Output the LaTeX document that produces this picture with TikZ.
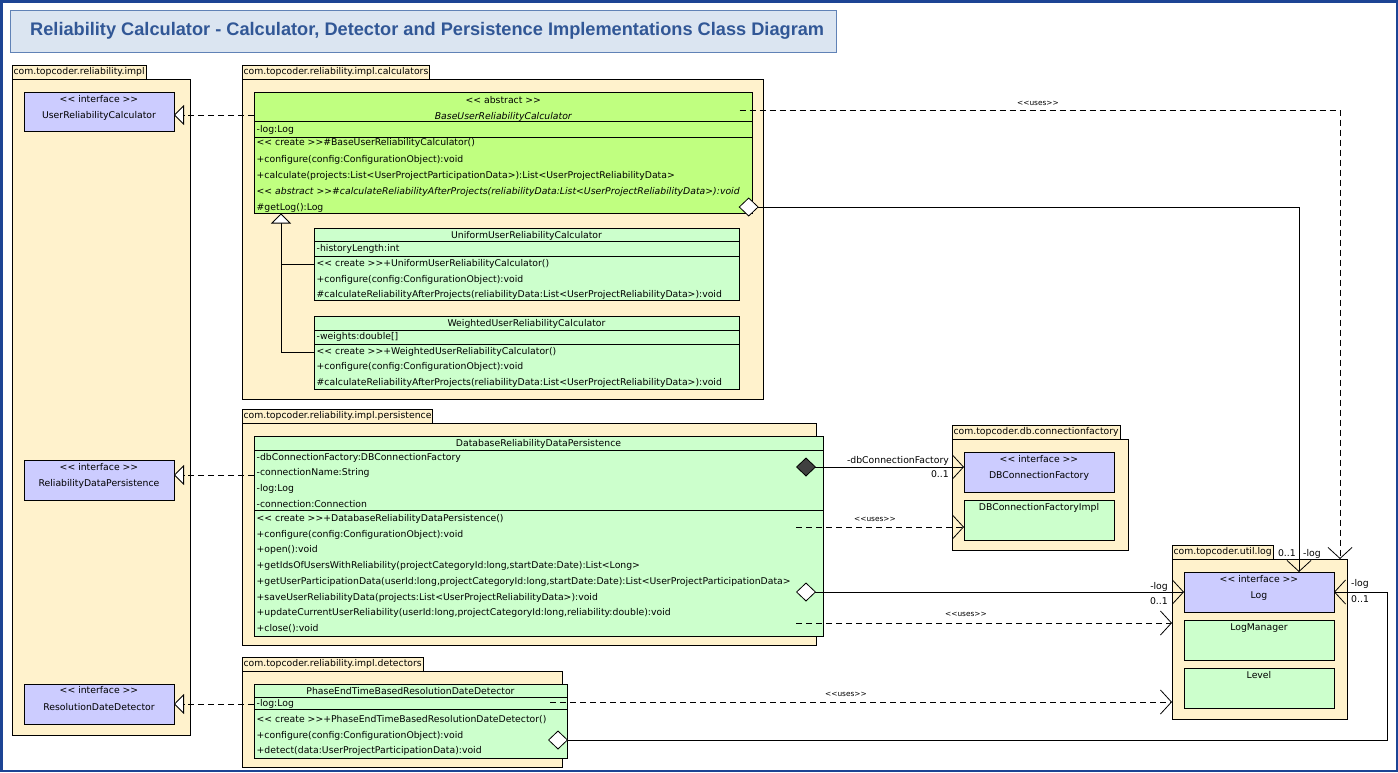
\documentclass[tikz,border=0pt]{standalone}
\usepackage{fontspec}
\newfontfamily\umlfont{DejaVu Sans}[Ligatures=TeXOff]
\newfontfamily\ttlfont{Liberation Sans}[Ligatures=TeXOff]
\usetikzlibrary{arrows.meta,calc}
\definecolor{pkgfill}{RGB}{255,242,204}
\definecolor{iffill}{RGB}{204,204,255}
\definecolor{clsfill}{RGB}{204,255,204}
\definecolor{absfill}{RGB}{192,255,128}
\definecolor{ttlfill}{RGB}{219,229,241}
\definecolor{ttlborder}{RGB}{96,130,182}
\definecolor{ttltext}{RGB}{49,87,150}
\definecolor{edgeblue}{RGB}{28,68,148}
\definecolor{diamfill}{RGB}{64,64,64}
\newcommand\rowfont{\umlfont\fontsize{9.3}{11}\selectfont}
\newcommand\usesfont{\umlfont\fontsize{7.4}{9}\selectfont}
\begin{document}
\begin{tikzpicture}[x=1pt,y=-1pt,
  umlbox/.style={draw=black,line width=1pt,anchor=north west,inner sep=0pt,outer sep=0pt},
  pkgbody/.style={umlbox,fill=pkgfill},
  pkgtab/.style={draw=black,line width=1pt,fill=pkgfill,anchor=south west,inner xsep=1.5pt,inner ysep=0pt,minimum height=13.5pt,outer sep=0pt,font=\rowfont},
  ifbox/.style={umlbox,fill=iffill},
  clsbox/.style={umlbox,fill=clsfill},
  absbox/.style={umlbox,fill=absfill},
  rowl/.style={anchor=base west,inner sep=0pt,font=\rowfont},
  rowc/.style={anchor=base,inner sep=0pt,font=\rowfont},
  rowr/.style={anchor=base east,inner sep=0pt,font=\rowfont},
  useslbl/.style={anchor=base,inner sep=0pt,font=\usesfont},
  compline/.style={line width=1pt},
  umlline/.style={line width=1pt},
  dashline/.style={line width=1pt,dash pattern=on 6pt off 4pt},
  barbend/.style={-{Straight Barb[length=11pt,width=24pt,line width=0.8pt]}},
  realiz/.style={dashline,-{Triangle[length=10pt,width=20pt,fill=white,line width=0.8pt]}},
  inherit/.style={umlline,-{Triangle[length=10pt,width=20pt,fill=white,line width=0.8pt]}},
  odiam/.style={umlline,{Diamond[length=20pt,width=19pt,fill=white,line width=0.8pt]}-{Straight Barb[length=11pt,width=24pt,line width=0.8pt]}},
  fdiam/.style={umlline,{Diamond[length=20pt,width=19pt,fill=diamfill,line width=0.8pt]}-{Straight Barb[length=11pt,width=24pt,line width=0.8pt]}}
]
\useasboundingbox (0,0) rectangle (1398,772);
\fill[white] (0,0) rectangle (1398,772);
\draw[edgeblue,line width=2.5pt] (1.25,1.25) rectangle (1396.75,770.75);

% title
\node[umlbox,draw=ttlborder,fill=ttlfill,minimum width=826pt,minimum height=42pt] (title) at (10,10) {};
\node[anchor=west,inner sep=0pt,font=\ttlfont\bfseries\fontsize{18.2}{21}\selectfont,text=ttltext] (titletext) at (30,31) {Reliability Calculator - Calculator, Detector and Persistence Implementations Class Diagram};

% packages
\node[pkgbody,minimum width=178pt,minimum height=656pt] (implpkg) at (12,79) {};
\node[pkgtab] (impltab) at (implpkg.north west) {com.topcoder.reliability.impl};
\node[pkgbody,minimum width=521pt,minimum height=320.5pt] (calcpkg) at (242,79) {};
\node[pkgtab] (calctab) at (calcpkg.north west) {com.topcoder.reliability.impl.calculators};
\node[pkgbody,minimum width=574pt,minimum height=222pt] (perspkg) at (242,423) {};
\node[pkgtab] (perstab) at (perspkg.north west) {com.topcoder.reliability.impl.persistence};
\node[pkgbody,minimum width=320pt,minimum height=96pt] (detpkg) at (242,671) {};
\node[pkgtab] (dettab) at (detpkg.north west) {com.topcoder.reliability.impl.detectors};
\node[pkgbody,minimum width=176pt,minimum height=111pt] (cfpkg) at (952,439) {};
\node[pkgtab] (cftab) at (cfpkg.north west) {com.topcoder.db.connectionfactory};
\node[pkgbody,minimum width=175pt,minimum height=160pt] (utilpkg) at (1172,559) {};
\node[pkgtab] (utiltab) at (utilpkg.north west) {com.topcoder.util.log};

% interfaces in impl
\node[ifbox,minimum width=150pt,minimum height=39pt] (urc) at (24,92) {};
\node[rowc] (urc1) at (99,102.5) {<< interface >>};
\node[rowc] (urc2) at (99,118.5) {UserReliabilityCalculator};
\node[ifbox,minimum width=150pt,minimum height=40pt] (rdp) at (24,460) {};
\node[rowc] (rdp1) at (99,470.2) {<< interface >>};
\node[rowc] (rdp2) at (99,486.2) {ReliabilityDataPersistence};
\node[ifbox,minimum width=150pt,minimum height=40pt] (rdd) at (24,684) {};
\node[rowc] (rdd1) at (99,693.8) {<< interface >>};
\node[rowc] (rdd2) at (99,710.2) {ResolutionDateDetector};

% base calculator
\node[absbox,minimum width=498.7pt,minimum height=121pt] (base) at (254,92.5) {};
\draw[compline] (base.west |- 0,121.5) -- (base.east |- 0,121.5);
\draw[compline] (base.west |- 0,137) -- (base.east |- 0,137);
\node[rowc] (b1) at (503.3,103) {<< abstract >>};
\node[rowc,font=\rowfont\itshape] (b2) at (503.3,119.5) {BaseUserReliabilityCalculator};
\node[rowl] (b3) at (256.5,132.5) {-log:Log};
\node[rowl] (b4) at (256.5,145.5) {<< create >>\#BaseUserReliabilityCalculator()};
\node[rowl] (b5) at (256.5,162) {+configure(config:ConfigurationObject):void};
\node[rowl] (b6) at (256.5,178) {+calculate(projects:List<UserProjectParticipationData>):List<UserProjectReliabilityData>};
\node[rowl,font=\rowfont\itshape] (b7) at (256.5,194) {<< abstract >>\#calculateReliabilityAfterProjects(reliabilityData:List<UserProjectReliabilityData>):void};
\node[rowl] (b8) at (256.5,210) {\#getLog():Log};

% uniform
\node[clsbox,minimum width=425pt,minimum height=72.5pt] (unif) at (314,228.3) {};
\draw[compline] (unif.west |- 0,241.7) -- (unif.east |- 0,241.7);
\draw[compline] (unif.west |- 0,256.7) -- (unif.east |- 0,256.7);
\node[rowc] (u1) at (526.5,238.5) {UniformUserReliabilityCalculator};
\node[rowl] (u2) at (316.5,251.5) {-historyLength:int};
\node[rowl] (u3) at (316.5,266.2) {<< create >>+UniformUserReliabilityCalculator()};
\node[rowl] (u4) at (316.5,282.2) {+configure(config:ConfigurationObject):void};
\node[rowl] (u5) at (316.5,297.8) {\#calculateReliabilityAfterProjects(reliabilityData:List<UserProjectReliabilityData>):void};

% weighted
\node[clsbox,minimum width=425pt,minimum height=72.5pt] (weig) at (314,316.5) {};
\draw[compline] (weig.west |- 0,330) -- (weig.east |- 0,330);
\draw[compline] (weig.west |- 0,344.5) -- (weig.east |- 0,344.5);
\node[rowc] (w1) at (526.5,326.2) {WeightedUserReliabilityCalculator};
\node[rowl] (w2) at (316.5,339.5) {-weights:double[]};
\node[rowl] (w3) at (316.5,354.2) {<< create >>+WeightedUserReliabilityCalculator()};
\node[rowl] (w4) at (316.5,369.5) {+configure(config:ConfigurationObject):void};
\node[rowl] (w5) at (316.5,385.8) {\#calculateReliabilityAfterProjects(reliabilityData:List<UserProjectReliabilityData>):void};

% inheritance
\coordinate (inhj) at (281,264.5);
\coordinate (inhx) at (281,352.5);
\draw[umlline] (unif.west |- inhj) -- (inhj);
\draw[inherit] (weig.west |- inhx) -- (inhx) -- (base.south -| inhx);

% persistence
\node[clsbox,minimum width=569pt,minimum height=199.5pt] (drdp) at (254,436.5) {};
\draw[compline] (drdp.west |- 0,450) -- (drdp.east |- 0,450);
\draw[compline] (drdp.west |- 0,510.5) -- (drdp.east |- 0,510.5);
\node[rowc] (p0) at (538.5,446.5) {DatabaseReliabilityDataPersistence};
\node[rowl] (p1) at (256.5,460.2) {-dbConnectionFactory:DBConnectionFactory};
\node[rowl] (p2) at (256.5,475.9) {-connectionName:String};
\node[rowl] (p3) at (256.5,491.6) {-log:Log};
\node[rowl] (p4) at (256.5,507.3) {-connection:Connection};
\node[rowl] (p5) at (256.5,521.2) {<< create >>+DatabaseReliabilityDataPersistence()};
\node[rowl] (p6) at (256.5,537) {+configure(config:ConfigurationObject):void};
\node[rowl] (p7) at (256.5,552.7) {+open():void};
\node[rowl] (p8) at (256.5,568.5) {+getIdsOfUsersWithReliability(projectCategoryId:long,startDate:Date):List<Long>};
\node[rowl] (p9) at (256.5,584.2) {+getUserParticipationData(userId:long,projectCategoryId:long,startDate:Date):List<UserProjectParticipationData>};
\node[rowl] (p10) at (256.5,600) {+saveUserReliabilityData(projects:List<UserProjectReliabilityData>):void};
\node[rowl] (p11) at (256.5,615.7) {+updateCurrentUserReliability(userId:long,projectCategoryId:long,reliability:double):void};
\node[rowl] (p12) at (256.5,631.5) {+close():void};

% detector
\node[clsbox,minimum width=313pt,minimum height=74pt] (det) at (254,684) {};
\draw[compline] (det.west |- 0,697) -- (det.east |- 0,697);
\draw[compline] (det.west |- 0,709.5) -- (det.east |- 0,709.5);
\node[rowc] (d0) at (410.5,694.5) {PhaseEndTimeBasedResolutionDateDetector};
\node[rowl] (d1) at (256.5,706.5) {-log:Log};
\node[rowl] (d2) at (256.5,722.5) {<< create >>+PhaseEndTimeBasedResolutionDateDetector()};
\node[rowl] (d3) at (256.5,738.5) {+configure(config:ConfigurationObject):void};
\node[rowl] (d4) at (256.5,753.5) {+detect(data:UserProjectParticipationData):void};

% connection factory
\node[ifbox,minimum width=150pt,minimum height=40pt] (dbcf) at (964,452) {};
\node[rowc] (dbcf1) at (1039,462.5) {<< interface >>};
\node[rowc] (dbcf2) at (1039,478.5) {DBConnectionFactory};
\node[clsbox,minimum width=150pt,minimum height=40pt] (dbcfi) at (964,500) {};
\node[rowc] (dbcfi1) at (1039,510.5) {DBConnectionFactoryImpl};

% util.log
\node[ifbox,minimum width=150pt,minimum height=40pt] (log) at (1184,572) {};
\node[rowc] (log1) at (1259,582.5) {<< interface >>};
\node[rowc] (log2) at (1259,598.5) {Log};
\node[clsbox,minimum width=150pt,minimum height=40pt] (logm) at (1184,620) {};
\node[rowc] (logm1) at (1259,630.5) {LogManager};
\node[clsbox,minimum width=150pt,minimum height=40pt] (level) at (1184,668) {};
\node[rowc] (level1) at (1259,678.5) {Level};

% realizations
\draw[realiz] (base.west |- 0,115) -- (urc.east |- 0,115);
\draw[realiz] (drdp.west |- 0,475) -- (rdp.east |- 0,475);
\draw[realiz] (det.west |- 0,704) -- (rdd.east |- 0,704);

% associations and dependencies
\draw[dashline,barbend] ($(base.east |- 0,110)+(-13,0)$) -| ($(utilpkg.north east)+(-7,0)$);
\draw[odiam] ($(base.east |- 0,207)+(-14,0)$) -| ($(log.north)+(40,0)$);
\draw[fdiam] ($(drdp.east |- 0,467)+(-27,0)$) -- (dbcf.west |- 0,467);
\draw[dashline,barbend] ($(drdp.east |- 0,527)+(-27,0)$) -- (dbcfi.west |- 0,527);
\draw[odiam] ($(drdp.east |- log.west)+(-27,0)$) -- (log.west);
\draw[dashline,barbend] ($(drdp.east |- 0,623)+(-27,0)$) -- (utilpkg.west |- 0,623);
\draw[dashline,barbend] ($(det.east |- 0,702)+(-17,0)$) -- (utilpkg.west |- 0,702);
\coordinate (loopc) at (1387,740);
\draw[odiam] ($(det.east |- loopc)+(-19,0)$) -- (loopc) |- (log.east);

% labels
\node[useslbl] (lb8) at (1038,105.7) {<<uses>>};
\node[rowr] (lb1) at (949,463.5) {-dbConnectionFactory};
\node[rowr] (lb2) at (949,477) {0..1};
\node[useslbl] (lb3) at (875,521.7) {<<uses>>};
\node[rowr] (lb4) at (1168,589.5) {-log};
\node[rowr] (lb5) at (1168,604.5) {0..1};
\node[useslbl] (lb6) at (966,616.7) {<<uses>>};
\node[useslbl] (lb7) at (846,696.7) {<<uses>>};
\node[rowr] (lb9) at (1296,556.5) {0..1};
\node[rowl] (lb10) at (1303,556.5) {-log};
\node[rowl] (lb11) at (1351,586.5) {-log};
\node[rowl] (lb12) at (1351,602.5) {0..1};
\end{tikzpicture}
\end{document}
